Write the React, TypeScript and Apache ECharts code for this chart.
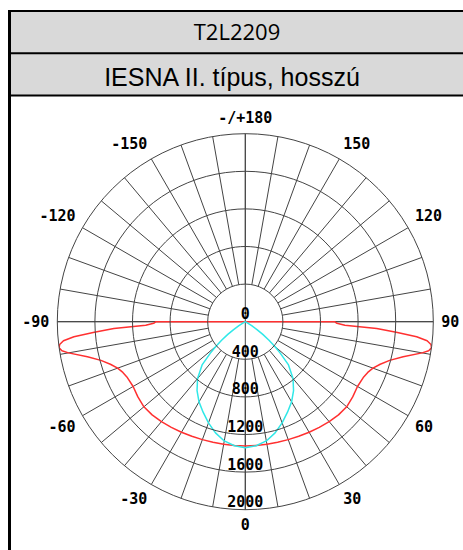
import React, { useEffect, useRef } from "react";
import * as echarts from "echarts";

const titleTop = "T2L2209";
const titleBottom = "IESNA II. típus, hosszú";

const angleTickLabels = ["0", "30", "60", "90", "120", "150", "-/+180", "-150", "-120", "-90", "-60", "-30"];
const radiusTickLabels = ["0", "400", "800", "1200", "1600", "2000"];

// C0-C180 plane (red), angles in degrees (0 = nadir), intensity in cd
const redAngles = [
  -92, -90, -89, -88, -87, -86, -85, -84, -83, -82, -81, -80, -77.5, -75, -72.5, -70, -67.5, -65, -60, -55, -50, -45, -40, -35, -30, -25, -20, -15, -10, -5,
  0, 5, 10, 15, 20, 25, 30, 35, 40, 45, 50, 55, 60, 65, 67.5, 70, 72.5, 75, 77.5, 80, 81, 82, 83, 84, 85, 86, 87, 88, 89, 90, 92,
];
const redValues = [
  0, 950, 975, 1060, 1400, 1610, 1830, 1945, 1990, 2000, 1975, 1910, 1720, 1590, 1505, 1445, 1410, 1390, 1378, 1395, 1408, 1402, 1388, 1372, 1358, 1345, 1335, 1328, 1324, 1322,
  1322, 1322, 1324, 1328, 1335, 1345, 1358, 1372, 1388, 1402, 1408, 1395, 1378, 1390, 1410, 1445, 1505, 1590, 1720, 1910, 1975, 2000, 1990, 1945, 1830, 1610, 1400, 1060, 975, 950, 0,
];

// C90-C270 plane (cyan)
const cyanAngles = [
  -62, -60, -58, -56, -54, -52, -50, -48, -45, -40, -35, -30, -25, -20, -15, -10, -5,
  0, 5, 10, 15, 20, 25, 30, 35, 40, 45, 48, 50, 52, 54, 56, 58, 60, 62,
];
const cyanValues = [
  0, 30, 80, 150, 230, 320, 410, 500, 650, 790, 895, 985, 1062, 1145, 1225, 1288, 1325,
  1340, 1325, 1288, 1225, 1145, 1062, 985, 895, 790, 650, 500, 410, 320, 230, 150, 80, 30, 0,
];

const CX = 245.3;
const CY = 321.7;
const R = 188;
const RMAX = 2000;
const GRID = "#444444";
const LABEL_FONT = "DejaVu Sans Mono";

const toPolar = (angles: number[], values: number[]) =>
  angles.map((a, i) => [values[i], (a + 360) % 360]);

export default function App() {
  const ref = useRef<HTMLDivElement>(null);

  useEffect(() => {
    if (!ref.current) return;
    const chart = echarts.init(ref.current, undefined, { renderer: "svg" });

    const baseAngle = {
      min: 0,
      max: 360,
      startAngle: 270,
      clockwise: false,
      axisLine: { show: false },
      axisTick: { show: false },
    };

    chart.setOption({
      animation: false,
      backgroundColor: "#ffffff",
      polar: [
        { center: [CX, CY], radius: [0, R] },
        { center: [CX, CY], radius: [R * 400 / RMAX, R] },
        { center: [CX, CY], radius: [0, R] },
      ],
      angleAxis: [
        {
          ...baseAngle,
          polarIndex: 0,
          interval: 30,
          splitLine: { show: false },
          axisLabel: {
            show: true,
            margin: 8,
            color: "#000",
            fontFamily: LABEL_FONT,
            fontWeight: "bold",
            fontSize: 15,
            formatter: (v: number) => (v >= 360 ? "" : angleTickLabels[Math.round(v / 30)]),
          },
        },
        {
          ...baseAngle,
          polarIndex: 1,
          interval: 10,
          axisLabel: { show: false },
          splitLine: { show: true, lineStyle: { color: GRID, width: 1 } },
        },
        {
          ...baseAngle,
          polarIndex: 2,
          interval: 90,
          axisLabel: { show: false },
          splitLine: { show: true, lineStyle: { color: GRID, width: 1 } },
        },
      ],
      radiusAxis: [
        {
          polarIndex: 0,
          min: 0,
          max: RMAX,
          interval: 400,
          axisLine: { show: false },
          axisTick: { show: false },
          splitLine: { show: true, lineStyle: { color: GRID, width: 1 } },
          axisLabel: {
            show: true,
            margin: 0,
            align: "center",
            verticalAlign: "bottom",
            color: "#000",
            fontFamily: LABEL_FONT,
            fontWeight: "bold",
            fontSize: 15,
            formatter: (v: number) => radiusTickLabels[Math.round(v / 400)] ?? "",
          },
          z: 5,
        },
        { polarIndex: 1, min: 0, max: RMAX, show: false },
        { polarIndex: 2, min: 0, max: RMAX, show: false },
      ],
      series: [
        {
          type: "line",
          coordinateSystem: "polar",
          polarIndex: 0,
          data: toPolar(redAngles, redValues),
          showSymbol: false,
          lineStyle: { color: "#ff3030", width: 1.5 },
          z: 3,
        },
        {
          type: "line",
          coordinateSystem: "polar",
          polarIndex: 0,
          data: toPolar(cyanAngles, cyanValues),
          showSymbol: false,
          lineStyle: { color: "#30e8e8", width: 1.5 },
          z: 3,
        },
      ],
      graphic: [
        { type: "rect", shape: { x: 8, y: 11, width: 460, height: 42 }, style: { fill: "#d9d9d9" } },
        { type: "rect", shape: { x: 8, y: 54, width: 460, height: 41 }, style: { fill: "#d9d9d9" } },
        { type: "line", shape: { x1: 8, y1: 11, x2: 470, y2: 11 }, style: { stroke: "#000", lineWidth: 2 } },
        { type: "line", shape: { x1: 8, y1: 53.3, x2: 470, y2: 53.3 }, style: { stroke: "#000", lineWidth: 2 } },
        { type: "line", shape: { x1: 8, y1: 95.5, x2: 470, y2: 95.5 }, style: { stroke: "#000", lineWidth: 2 } },
        { type: "line", shape: { x1: 9.5, y1: 10, x2: 9.5, y2: 560 }, style: { stroke: "#000", lineWidth: 3 } },
        {
          type: "text",
          x: 237,
          y: 31,
          style: {
            text: titleTop,
            fill: "#000",
            font: "22px 'Open Sans'",
            textAlign: "center",
            textVerticalAlign: "middle",
          },
        },
        {
          type: "text",
          x: 232,
          y: 77,
          style: {
            text: titleBottom,
            fill: "#000",
            font: "25px 'Liberation Sans'",
            textAlign: "center",
            textVerticalAlign: "middle",
          },
        },
      ],
    });

    return () => chart.dispose();
  }, []);

  return (
    <div
      ref={ref}
      style={{ position: "absolute", left: 0, top: 0, width: 463, height: 550 }}
    />
  );
}
